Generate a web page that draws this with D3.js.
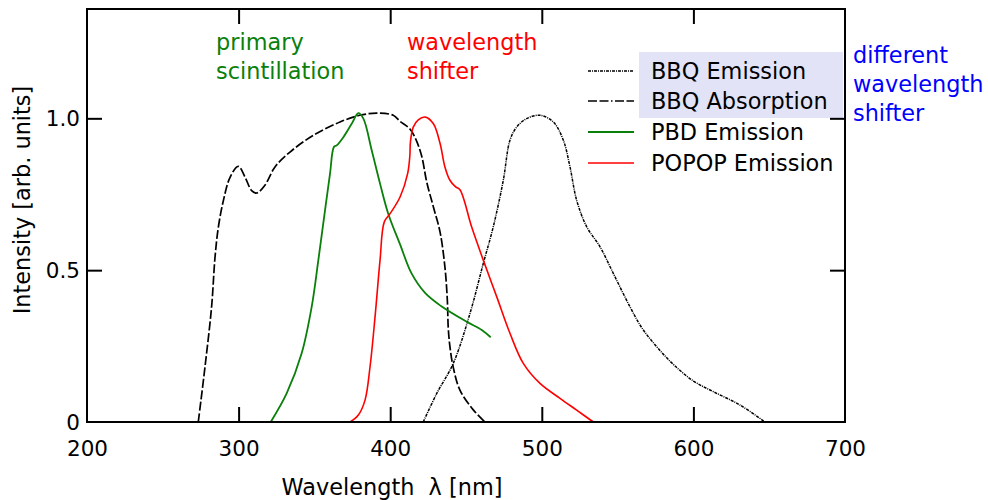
<!DOCTYPE html>
<html><head><meta charset="utf-8">
<script src="https://cdn.jsdelivr.net/npm/d3@7"></script>
<style>
html,body{margin:0;padding:0;background:#fff;}
svg{display:block;font-family:"DejaVu Sans",sans-serif;}
</style></head>
<body><svg id="c" width="988" height="500"></svg>
<script>
// ---- data ----
const xTicks = [200, 300, 400, 500, 600, 700];
const yTicks = [0, 0.5, 1.0];
const yTickLabels = ["0", "0.5", "1.0"];

const bbqAbsNm = [273.4,277.8,282.2,284.4,286.6,290,294.3,299.8,304.2,308.6,311.9,317.4,324,333.9,349.3,366.9,380,391,402,406.5,413,417,420.8,424.1,428.5,432.9,436.1,437.7,438.3,439.4,441.6,446,454.8,462.5];
const bbqAbsVal = [0,0.18,0.38,0.54,0.64,0.73,0.805,0.842,0.807,0.762,0.754,0.78,0.84,0.889,0.944,0.988,1.01,1.017,1.01,0.99,0.965,0.93,0.875,0.79,0.708,0.625,0.51,0.40,0.31,0.248,0.18,0.105,0.04,0];

const pbdNm = [321.2,331.7,341.6,348.2,352.6,357,360.3,362.9,364.7,369.1,374.6,379,382.3,387.8,393.3,398.7,406.5,414,423,433.5,450.5,460.4,466.3];
const pbdVal = [0,0.094,0.226,0.379,0.533,0.697,0.818,0.906,0.911,0.938,0.982,1.017,0.999,0.895,0.785,0.686,0.585,0.49,0.425,0.382,0.33,0.303,0.279];

const popopNm = [373.5,379,383.4,386.7,390,393.3,396.1,399.9,406.5,411.5,413,413.3,415.2,418.5,423.2,428.5,432.9,436.1,439.4,443,446,453.7,461.4,470.3,479,487.8,498.8,512,523,534];
const popopVal = [0,0.023,0.072,0.182,0.346,0.533,0.659,0.686,0.741,0.818,0.88,0.92,0.971,0.995,1.004,0.982,0.917,0.84,0.796,0.775,0.765,0.643,0.533,0.412,0.292,0.193,0.127,0.078,0.039,0];

const bbqEmNm = [421.8,430.7,441.6,452.6,461.4,468,474.6,479,483.4,490,498.8,507.6,514.2,518.6,523,529.6,538.4,547.2,558.2,566,575.8,586.7,600,613.1,630.7,647.2];
const bbqEmVal = [0,0.094,0.193,0.357,0.522,0.643,0.796,0.928,0.971,0.999,1.01,0.988,0.928,0.84,0.73,0.643,0.577,0.489,0.379,0.31,0.248,0.19,0.135,0.1,0.056,0];

const seriesNames = ["BBQ Emission", "BBQ Absorption", "PBD Emission", "POPOP Emission"];

// ---- drawing ----
const svg = d3.select("#c");
const L = 87, R = 845, T = 9, B = 422;
const x = d3.scaleLinear().domain([200, 700]).range([L, R]);
const y = d3.scaleLinear().domain([0, 1.36]).range([B, T]);
const FS = 22.4;
const TFS = 21.5;

const styles = [
  {nm: bbqEmNm, v: bbqEmVal, color: "#000", w: 1.5, dash: "3,1,1,1"},
  {nm: bbqAbsNm, v: bbqAbsVal, color: "#000", w: 1.7, dash: "9,2.5"},
  {nm: pbdNm, v: pbdVal, color: "#0a800a", w: 1.8, dash: null},
  {nm: popopNm, v: popopVal, color: "#ff0000", w: 1.6, dash: null}
];
const legendDash = ["3,1,1,1", "9,2.5,9,2.5,1.5,2.5", null, null];

// legend shading
svg.append("rect").attr("x", 639).attr("y", 52).attr("width", 204).attr("height", 66).attr("fill", "#e3e3f8");

const line = d3.line().curve(d3.curveCatmullRom.alpha(0.5));
styles.forEach(s => {
  const pts = s.nm.map((n, i) => [x(n), y(s.v[i])]);
  svg.append("path").attr("d", line(pts)).attr("fill", "none")
    .attr("stroke", s.color).attr("stroke-width", s.w)
    .attr("stroke-dasharray", s.dash);
});

// frame
svg.append("rect").attr("x", L).attr("y", T).attr("width", R - L).attr("height", B - T)
  .attr("fill", "none").attr("stroke", "#000").attr("stroke-width", 2);

// axes with inward ticks
const TL = 15;
const gB = svg.append("g").attr("transform", `translate(0,${B})`)
  .call(d3.axisBottom(x).tickValues(xTicks).tickSize(-TL).tickPadding(19).tickFormat(d3.format("d")));
const gT = svg.append("g").attr("transform", `translate(0,${T})`)
  .call(d3.axisTop(x).tickValues(xTicks.slice(1, -1)).tickSize(-TL).tickFormat(""));
const gL = svg.append("g").attr("transform", `translate(${L},0)`)
  .call(d3.axisLeft(y).tickValues(yTicks).tickSize(-TL).tickPadding(7).tickFormat((d, i) => yTickLabels[i]));
const gR = svg.append("g").attr("transform", `translate(${R},0)`)
  .call(d3.axisRight(y).tickValues(yTicks.slice(1)).tickSize(-TL).tickFormat(""));
[gB, gT, gL, gR].forEach(g => {
  g.select(".domain").remove();
  g.selectAll(".tick line").attr("stroke", "#000").attr("stroke-width", 2);
  g.selectAll("text").attr("font-size", TFS).attr("font-family", "DejaVu Sans").attr("fill", "#000");
});
gB.selectAll(".tick").filter(d => d === 200 || d === 700).select("line").remove();
gL.selectAll(".tick").filter(d => d === 0).select("line").remove();
gL.selectAll(".tick text").attr("dy", "0.35em");

// axis titles
svg.append("text").attr("x", 392).attr("y", 495).attr("text-anchor", "middle")
  .attr("font-size", FS).attr("fill", "#000").text("Wavelength  λ [nm]").style("white-space", "pre");
svg.append("text").attr("transform", "translate(30,200) rotate(-90)").attr("text-anchor", "middle")
  .attr("font-size", FS).attr("fill", "#000").text("Intensity [arb. units]");

// legend
const legY = [71, 101, 132, 163];
styles.forEach((s, i) => {
  svg.append("line").attr("x1", 588).attr("x2", 634).attr("y1", legY[i]).attr("y2", legY[i])
    .attr("stroke", s.color).attr("stroke-width", s.w).attr("stroke-dasharray", legendDash[i]);
  svg.append("text").attr("x", 651).attr("y", legY[i]).attr("dy", "0.35em")
    .attr("font-size", FS).attr("fill", "#000").text(seriesNames[i]);
});

// annotations
const ann = [
  {lines: ["primary", "scintillation"], x: 216, y: 50, color: "#0a800a"},
  {lines: ["wavelength", "shifter"], x: 407, y: 50, color: "#ff0000"},
  {lines: ["different", "wavelength", "shifter"], x: 853, y: 63, color: "#0000ff"}
];
ann.forEach(a => {
  const t = svg.append("text").attr("x", a.x).attr("y", a.y).attr("font-size", FS).attr("fill", a.color);
  a.lines.forEach((l, i) => t.append("tspan").attr("x", a.x).attr("dy", i === 0 ? 0 : 29).text(l));
});
</script></body></html>
